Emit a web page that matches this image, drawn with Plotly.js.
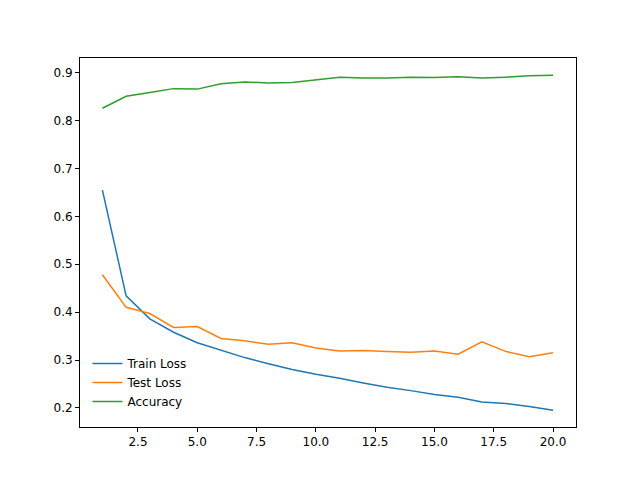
<!DOCTYPE html>
<html><head><script src="https://cdn.plot.ly/plotly-3.0.1.min.js"></script></head>
<body style="margin:0"><div id="c" style="width:640px;height:480px"></div>
<script>
const epochs=[1,2,3,4,5,6,7,8,9,10,11,12,13,14,15,16,17,18,19,20];
const trainLoss=[0.655,0.434,0.386,0.358,0.336,0.32,0.305,0.292,0.28,0.27,0.262,0.252,0.243,0.236,0.228,0.222,0.212,0.209,0.203,0.195];
const testLoss=[0.478,0.41,0.397,0.368,0.37,0.345,0.34,0.333,0.336,0.325,0.319,0.32,0.318,0.316,0.319,0.312,0.338,0.318,0.307,0.315];
const accuracy=[0.826,0.851,0.859,0.867,0.866,0.877,0.881,0.879,0.880,0.886,0.891,0.889,0.889,0.891,0.890,0.892,0.889,0.891,0.894,0.895];
const mk=(y,n,c)=>({x:epochs,y:y,name:n,mode:'lines',line:{color:c,width:1.5}});
const ax={showgrid:false,zeroline:false,showline:true,mirror:true,linecolor:'black',linewidth:1,ticks:'outside',ticklen:4,tickcolor:'black',tickfont:{size:12,color:'black',family:'DejaVu Sans'}};
Plotly.newPlot('c',[mk(trainLoss,'Train Loss','#1f77b4'),mk(testLoss,'Test Loss','#ff7f0e'),mk(accuracy,'Accuracy','#2ca02c')],{
width:640,height:480,margin:{l:80,r:64,t:58,b:53},plot_bgcolor:'white',paper_bgcolor:'white',
xaxis:Object.assign({range:[0.055,20.97],tickvals:[2.5,5,7.5,10,12.5,15,17.5,20],ticktext:['2.5','5.0','7.5','10.0','12.5','15.0','17.5','20.0']},ax),
yaxis:Object.assign({range:[0.16,0.931],tickvals:[0.2,0.3,0.4,0.5,0.6,0.7,0.8,0.9],ticktext:['0.2','0.3','0.4','0.5','0.6','0.7','0.8','0.9']},ax),
legend:{x:0.015,y:0.03,xanchor:'left',yanchor:'bottom',bgcolor:'rgba(0,0,0,0)',font:{size:12,family:'DejaVu Sans',color:'black'}},
},{displayModeBar:false});
</script></body></html>
